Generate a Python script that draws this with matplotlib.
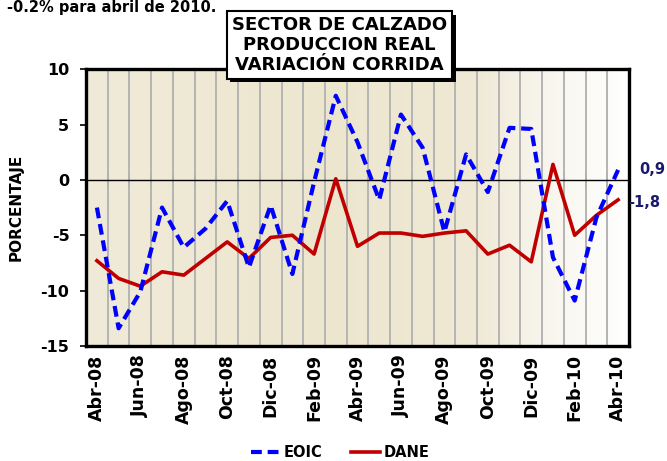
import matplotlib.pyplot as plt
import numpy as np
from matplotlib.colors import LinearSegmentedColormap
from matplotlib import patheffects

# --- Data ---
months = ['Abr-08', 'May-08', 'Jun-08', 'Jul-08', 'Ago-08', 'Sep-08', 'Oct-08',
          'Nov-08', 'Dic-08', 'Ene-09', 'Feb-09', 'Mar-09', 'Abr-09', 'May-09',
          'Jun-09', 'Jul-09', 'Ago-09', 'Sep-09', 'Oct-09', 'Nov-09', 'Dic-09',
          'Ene-10', 'Feb-10', 'Mar-10', 'Abr-10']
eoic = [-2.5, -13.4, -10.1, -2.5, -6.1, -4.4, -1.9, -7.9, -2.3, -8.5, -0.2, 7.6,
        3.4, -1.8, 5.9, 2.9, -4.7, 2.3, -1.1, 4.7, 4.6, -7.0, -10.9, -3.4, 0.9]
dane = [-7.3, -8.9, -9.6, -8.3, -8.6, -7.1, -5.6, -7.1, -5.2, -5.0, -6.7, 0.1,
        -6.0, -4.8, -4.8, -5.1, -4.8, -4.6, -6.7, -5.9, -7.4, 1.4, -5.0, -3.2, -1.8]
yticks = [10, 5, 0, -5, -10, -15]
last_labels = ['0,9', '-1,8']

plt.rcParams['font.family'] = ['DejaVu Sans']
plt.rcParams['font.weight'] = 'bold'

fig = plt.figure(figsize=(6.67, 4.61), dpi=100)
ax = fig.add_axes([0.129, 0.2495, 0.814, 0.6005])

n = len(months)
x = np.arange(n)
ax.set_xlim(-0.5, n - 0.5)
ax.set_ylim(-15, 10)

# --- Background gradient (beige to white on the right) ---
bg = LinearSegmentedColormap.from_list('bg', [
    (0.0, '#F0EBD9'), (0.45, '#EDE6CF'), (0.72, '#EFE9D5'),
    (0.82, '#F6F3E9'), (0.92, '#FBFAF5'), (1.0, '#FFFFFF')])
grad = np.linspace(0, 1, 256).reshape(1, -1)
ax.imshow(grad, cmap=bg, aspect='auto', extent=(-0.5, n - 0.5, -15, 10),
          zorder=0, interpolation='bilinear')

# vertical gridlines between categories
for b in x[1:] - 0.5:
    ax.axvline(b, color='#B4B4B4', lw=1.4, zorder=1)

# zero line with category tick marks
ax.axhline(0, color='black', lw=1.0, zorder=2)
secax = ax.secondary_xaxis(15 / 25)
secax.set_xticks(x[1:] - 0.5)
secax.tick_params(direction='inout', length=8, width=1.2, labelbottom=False,
                  labeltop=False, color='#333333')
secax.spines['bottom'].set_visible(False)
secax.spines['top'].set_visible(False)

# --- Series ---
ax.plot(x, eoic, color='#0000FF', lw=3, ls=(0, (2.6, 1.4)), zorder=4,
        label='EOIC', solid_capstyle='butt')
ax.plot(x, dane, color='#C00000', lw=2.6, zorder=3, label='DANE')

ax.annotate(last_labels[0], (x[-1], eoic[-1]), xytext=(15, 0),
            textcoords='offset points', color='#1A1A6E', fontsize=10.5,
            fontweight='bold', va='center', annotation_clip=False, zorder=8)
ax.annotate(last_labels[1], (x[-1], dane[-1]), xytext=(7, -2),
            textcoords='offset points', color='#1A1A6E', fontsize=10.5,
            fontweight='bold', va='center', annotation_clip=False, zorder=8)

# --- Axes styling ---
for s in ax.spines.values():
    s.set_linewidth(2.4)
    s.set_color('black')
    s.set_zorder(6)

ax.set_yticks(yticks)
ax.set_yticklabels([str(v) for v in yticks], fontsize=11.5, fontweight='bold')
ax.tick_params(axis='y', direction='out', length=4, width=1.2, pad=8)

ax.set_xticks(x[::2])
ax.set_xticklabels(months[::2], rotation=90, fontsize=12.5, fontweight='bold')
ax.tick_params(axis='x', length=0, pad=6)

ax.set_ylabel('PORCENTAJE', fontsize=11, fontweight='bold', labelpad=12)

leg = fig.legend(loc='center', bbox_to_anchor=(0.51, 0.018), ncol=2,
                 frameon=False, handlelength=2.0,
                 handletextpad=0.2, columnspacing=2.0,
                 prop={'weight': 'bold', 'size': 10.5})

# --- Title box with drop shadow ---
title = 'SECTOR DE CALZADO\nPRODUCCION REAL\nVARIACIÓN CORRIDA'
t = fig.text(0.509, 0.902, title, ha='center', va='center', fontsize=13,
             fontweight='bold', linespacing=1.12, zorder=10,
             bbox=dict(boxstyle='square,pad=0.28', fc='white', ec='black',
                       lw=1.5))
t.get_bbox_patch().set_path_effects([
    patheffects.SimplePatchShadow(offset=(2.5, -2.5), shadow_rgbFace='black',
                                  alpha=1.0),
    patheffects.Normal()])

# sentence at the very top (cut off in the source)
fig.text(216 / 667, 1 - 12 / 461, '-0.2% para abril de 2010.', ha='right',
         va='baseline', fontsize=10.5, fontweight='bold')

fig.savefig('out.png', dpi=100)
